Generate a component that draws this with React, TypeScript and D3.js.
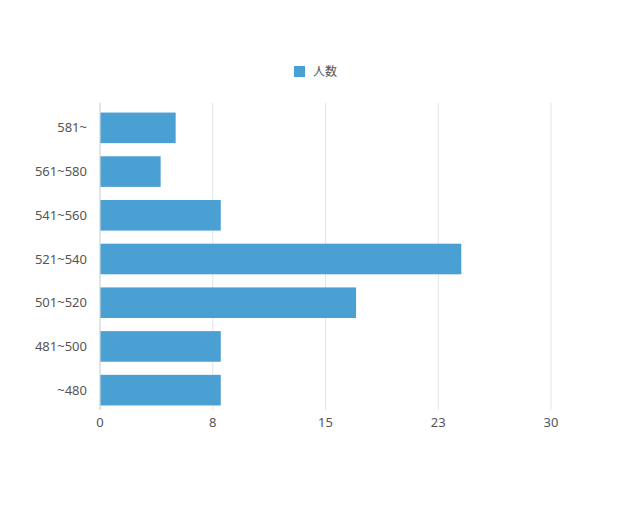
import React from "react";
import * as d3 from "d3";

const categories = ["581~", "561~580", "541~560", "521~540", "501~520", "481~500", "~480"];
const counts = [5, 4, 8, 24, 17, 8, 8];
const tickValues = [0, 7.5, 15, 22.5, 30];
const tickLabels = ["0", "8", "15", "23", "30"];
const seriesName = "人数";

const width = 640;
const height = 510;
const left = 100;
const right = 551;
const top = 106;
const bottom = 412;
const barColor = "#4a9fd3";
const textColor = "#555";
const font = "'Noto Sans', 'Noto Sans CJK JP', sans-serif";

const App: React.FC = () => {
  const x = d3.scaleLinear().domain([0, 30]).range([left, right]);
  const y = d3
    .scaleBand<string>()
    .domain(categories)
    .range([top, bottom])
    .paddingInner(0.3)
    .paddingOuter(0.15);

  return (
    <svg
      width={width}
      height={height}
      style={{ position: "absolute", left: 0, top: 0, background: "#fff" }}
      fontFamily={font}
    >
      {/* legend */}
      <rect x={294} y={66} width={11} height={11} fill={barColor} />
      <text x={313} y={72} dy="0.35em" fontSize={12} fill={textColor}>
        {seriesName}
      </text>

      {/* grid */}
      {tickValues.map((t, i) => (
        <line
          key={"g" + i}
          x1={x(t)}
          x2={x(t)}
          y1={top - 3}
          y2={bottom - 2}
          stroke={i === 0 ? "#c8c8c8" : "#e4e4e4"}
          strokeWidth={1}
        />
      ))}

      {/* bars */}
      {categories.map((c, i) => (
        <rect
          key={c}
          x={x(0) + 0.5}
          y={y(c)}
          width={x(counts[i]) - x(0)}
          height={y.bandwidth()}
          fill={barColor}
        />
      ))}

      {/* y labels */}
      {categories.map((c) => (
        <text
          key={"l" + c}
          x={87}
          y={(y(c) as number) + y.bandwidth() / 2}
          dy="0.35em"
          textAnchor="end"
          fontSize={13}
          fill={textColor}
        >
          {c}
        </text>
      ))}

      {/* x labels */}
      {tickValues.map((t, i) => (
        <text
          key={"x" + i}
          x={x(t)}
          y={422}
          dy="0.35em"
          textAnchor="middle"
          fontSize={13}
          fill={textColor}
        >
          {tickLabels[i]}
        </text>
      ))}
    </svg>
  );
};

export default App;
